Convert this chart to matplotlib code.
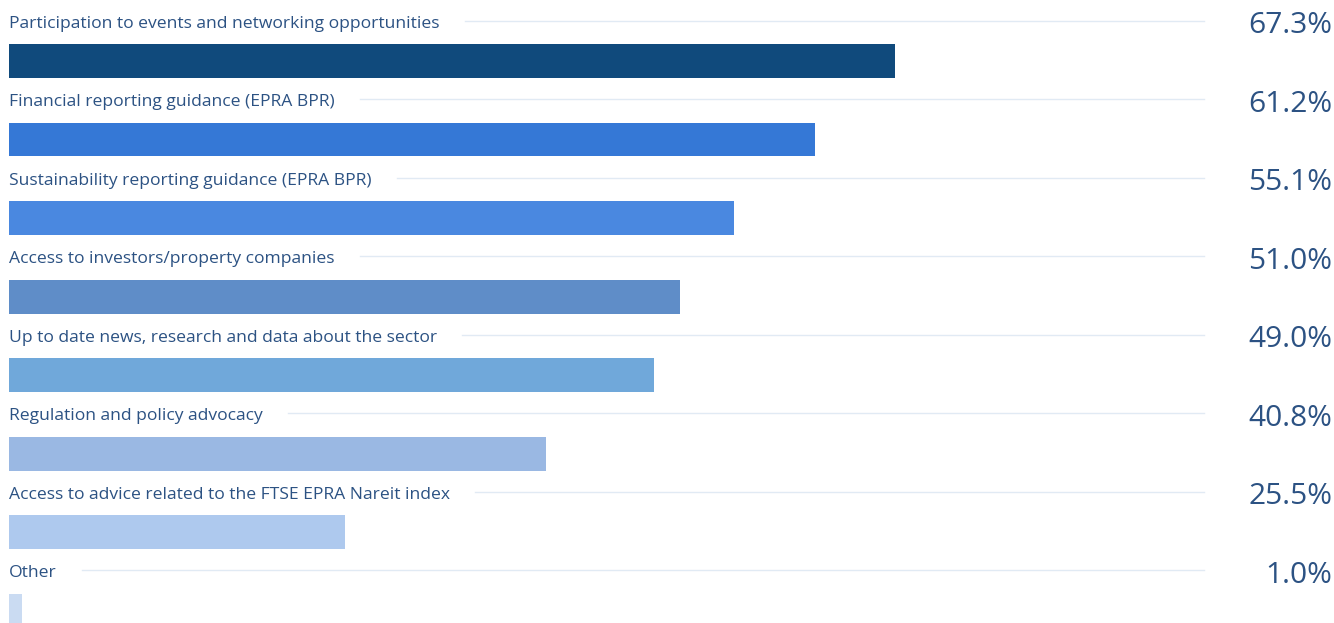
import matplotlib
matplotlib.use("Agg")
import matplotlib.pyplot as plt

# data
categories = [
    "Participation to events and networking opportunities",
    "Financial reporting guidance (EPRA BPR)",
    "Sustainability reporting guidance (EPRA BPR)",
    "Access to investors/property companies",
    "Up to date news, research and data about the sector",
    "Regulation and policy advocacy",
    "Access to advice related to the FTSE EPRA Nareit index",
    "Other",
]
values = [67.3, 61.2, 55.1, 51.0, 49.0, 40.8, 25.5, 1.0]
bar_colors = ["#104A7C", "#3578D6", "#4A88E0", "#5F8DC8",
              "#70A8DA", "#9AB8E3", "#AEC9EE", "#CADBF2"]

text_color = "#2C5283"
grid_color = "#E1EAF4"

plt.rcParams['font.family'] = ['Open Sans', 'DejaVu Sans']

fig = plt.figure(figsize=(13.34, 6.23), dpi=100)
ax = fig.add_axes([0, 0, 1, 1])
ax.set_xlim(-0.684, 100.65)
ax.set_ylim(7.159, -0.777)
ax.axis("off")

ypos = list(range(len(categories)))
ax.barh(ypos, values, height=0.433, color=bar_colors, left=0)

fig.canvas.draw()
renderer = fig.canvas.get_renderer()
inv = ax.transData.inverted()
for i, (cat, v) in enumerate(zip(categories, values)):
    ly = i - 0.51
    t = ax.text(0, ly + 0.035, cat, ha="left", va="center", fontsize=12.6,
                color=text_color, fontweight="medium")
    bb = t.get_window_extent(renderer=renderer)
    x_end = inv.transform((bb.x1 + 25, 0))[0]
    ax.plot([x_end, 90.77], [ly, ly], color=grid_color, lw=1, zorder=0)
    ax.text(100.5, ly + 0.06, f"{v:.1f}%", ha="right", va="center",
            fontsize=21.5, color=text_color, fontweight="medium")

fig.savefig("out.png", dpi=100)
